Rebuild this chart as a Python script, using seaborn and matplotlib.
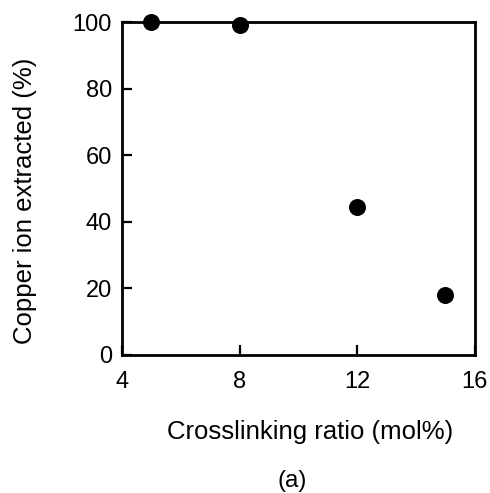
import matplotlib
matplotlib.use("Agg")
import matplotlib.pyplot as plt
import seaborn as sns
import pandas as pd

crosslinking_ratio = [5, 8, 12, 15]
copper_extracted = [100, 99.3, 44.6, 18.0]
x_ticks = [4, 8, 12, 16]
y_ticks = [0, 20, 40, 60, 80, 100]

sns.set_theme(style="ticks")
plt.rcParams['font.family'] = ['Liberation Sans', 'DejaVu Sans']
plt.rcParams['text.color'] = 'black'
plt.rcParams['axes.labelcolor'] = 'black'

df = pd.DataFrame({"x": crosslinking_ratio, "y": copper_extracted})

fig = plt.figure(figsize=(4.9, 4.93), dpi=100)
ax = fig.add_axes([0.249, 0.280, 0.720, 0.675])
sns.scatterplot(data=df, x="x", y="y", ax=ax, color="black", s=150,
                edgecolor="black", linewidth=0, clip_on=False, zorder=5)

ax.set_xlim(4, 16)
ax.set_ylim(0, 100)
ax.set_xticks(x_ticks)
ax.set_yticks(y_ticks)
ax.set_xticklabels([str(v) for v in x_ticks])
ax.set_yticklabels([str(v) for v in y_ticks])
for s in ax.spines.values():
    s.set_visible(True)
    s.set_linewidth(2.0)
    s.set_color("black")
ax.tick_params(direction="in", length=7, width=1.6, labelsize=17,
               colors="black", labelcolor="black")
ax.tick_params(axis="x", pad=11.5)
ax.tick_params(axis="y", pad=7.2)
ax.set_xlabel("Crosslinking ratio (mol%)", fontsize=18.5, color="black")
ax.xaxis.set_label_coords(0.533, -0.194)
ax.set_ylabel("Copper ion extracted (%)", fontsize=18.5, color="black")
ax.yaxis.set_label_coords(-0.24, 0.462)
fig.text(0.596, 0.012, "(a)", fontsize=17.5, ha="center", va="baseline", color="black")

fig.savefig("out.png", dpi=100, facecolor="white")
